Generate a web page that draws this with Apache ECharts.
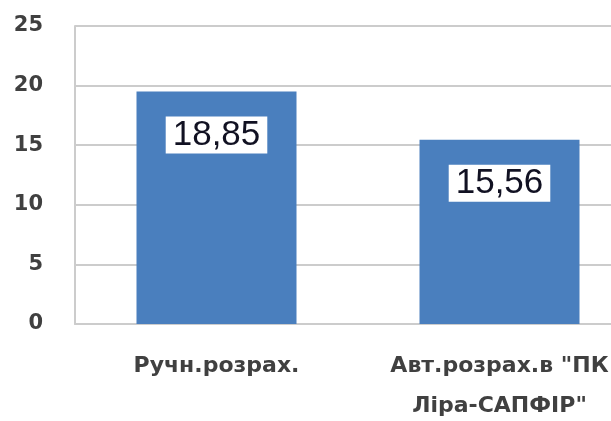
<!DOCTYPE html>
<html>
<head>
<meta charset="utf-8">
<script src="https://cdn.jsdelivr.net/npm/echarts@6/dist/echarts.min.js"></script>
<style>
html,body{margin:0;padding:0;background:#fff;overflow:hidden;width:611px;height:421px;}
#c{width:641px;height:421px;}
</style>
</head>
<body>
<div id="c"></div>
<script>
const categories = ['Ручн.розрах.', 'Авт.розрах.в "ПК Ліра-САПФІР"'];
const values = [19.5, 15.45];
const valueLabels = ['18,85', '15,56'];
const yTicks = [0, 5, 10, 15, 20, 25];

const chart = echarts.init(document.getElementById('c'), null, {renderer: 'canvas'});
chart.setOption({
  animation: false,
  backgroundColor: '#ffffff',
  grid: {left: 75, right: 0, top: 26, bottom: 97, containLabel: false, outerBoundsMode: 'none'},
  xAxis: {
    type: 'category',
    data: categories,
    axisLine: {show: true, lineStyle: {color: '#cccccc', width: 2}},
    axisTick: {show: false},
    axisLabel: {
      margin: 22,
      interval: 0,
      fontFamily: 'DejaVu Sans',
      fontWeight: 'bold',
      fontSize: 22,
      lineHeight: 40,
      color: '#404040',
      formatter: v => v.replace('"ПК ', '"ПК\n')
    }
  },
  yAxis: {
    type: 'value',
    min: yTicks[0],
    max: yTicks[yTicks.length - 1],
    interval: 5,
    axisLine: {show: true, lineStyle: {color: '#cccccc', width: 2}},
    axisTick: {show: false},
    splitLine: {show: true, lineStyle: {color: '#cccccc', width: 2}},
    axisLabel: {
      margin: 32,
      fontFamily: 'DejaVu Sans',
      fontWeight: 'bold',
      fontSize: 21,
      color: '#404040'
    }
  },
  series: [{
    type: 'bar',
    data: values,
    barWidth: 160,
    itemStyle: {color: '#4a7fbe'},
    label: {
      show: true,
      position: 'insideTop',
      distance: 25,
      formatter: p => valueLabels[p.dataIndex],
      fontFamily: 'Liberation Sans',
      fontSize: 35,
      lineHeight: 36,
      color: '#111122',
      backgroundColor: '#ffffff',
      padding: [1, 7, 0, 7]
    }
  }]
});
</script>
</body>
</html>
